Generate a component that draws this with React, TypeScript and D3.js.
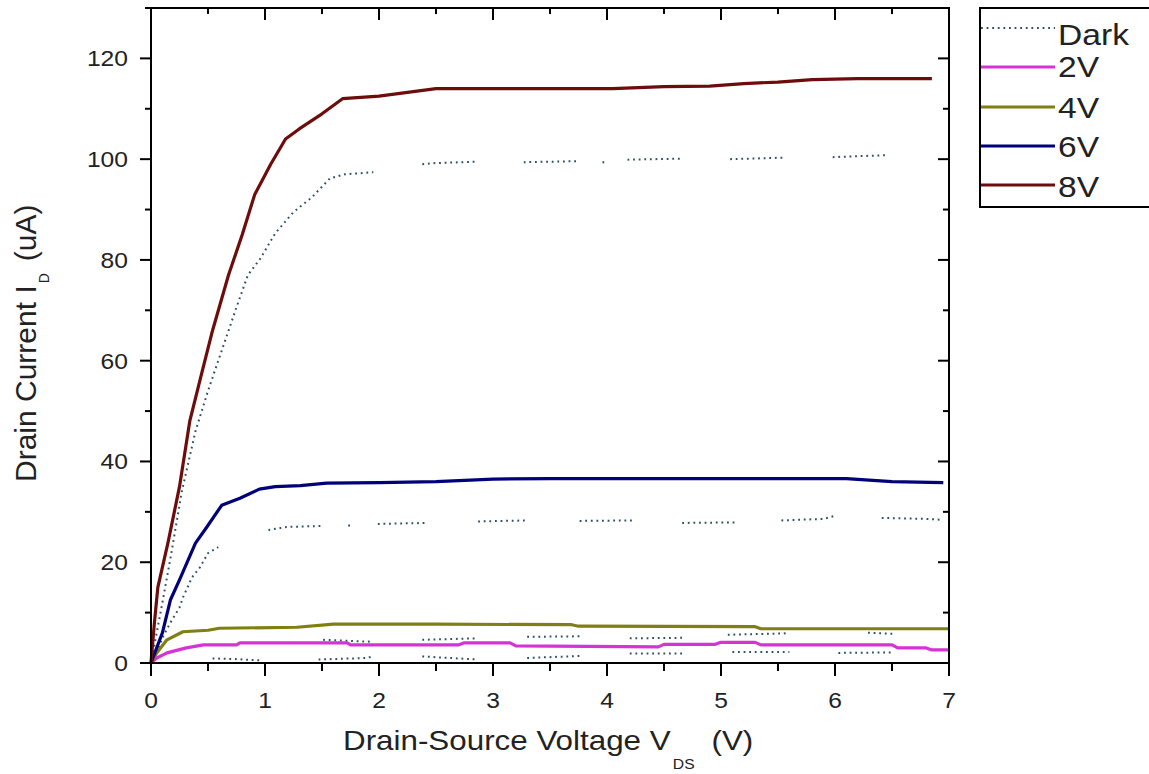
import React from 'react';
import * as d3 from 'd3';

type Pt = [number, number] | null;

// gate voltage curves (V_DS in V, I_D in uA)
const vg2: Pt[] = [[0, 0], [0.05, 1], [0.14, 2], [0.31, 3], [0.46, 3.6], [0.75, 3.6], [0.78, 4], [1.72, 4], [1.75, 3.6], [2.7, 3.6], [2.75, 4], [3.15, 4], [3.2, 3.4], [4.45, 3.2], [4.5, 3.7], [4.95, 3.7], [5.0, 4.1], [5.3, 4.1], [5.35, 3.6], [6.5, 3.6], [6.55, 3.0], [6.8, 3.0], [6.85, 2.6], [7, 2.6]];
const vg4: Pt[] = [[0, 0], [0.05, 2], [0.14, 4.6], [0.28, 6.2], [0.5, 6.5], [0.6, 6.9], [1.28, 7.1], [1.6, 7.7], [2.5, 7.7], [3.69, 7.6], [3.75, 7.3], [5.3, 7.2], [5.35, 6.8], [7, 6.8]];
const vg6: Pt[] = [[0, 0], [0.05, 3], [0.1, 6], [0.17, 12.5], [0.25, 16.5], [0.39, 23.8], [0.49, 27], [0.62, 31.3], [0.78, 32.7], [0.95, 34.5], [1.09, 35], [1.31, 35.2], [1.54, 35.7], [2, 35.8], [2.5, 36], [3, 36.5], [3.5, 36.6], [4, 36.6], [4.5, 36.6], [5, 36.6], [5.5, 36.6], [6.1, 36.6], [6.5, 36], [6.95, 35.8]];
const vg8: Pt[] = [[0, 0], [0.03, 8], [0.06, 15], [0.15, 24], [0.25, 35], [0.34, 48], [0.45, 58], [0.54, 66], [0.68, 77], [0.8, 85], [0.91, 93], [1.05, 99], [1.18, 104], [1.3, 106], [1.5, 109], [1.68, 112], [2.0, 112.5], [2.5, 114], [3, 114], [3.5, 114], [4.05, 114], [4.5, 114.4], [4.9, 114.5], [5.2, 115], [5.5, 115.3], [5.8, 115.8], [6.2, 116], [6.5, 116], [6.85, 116]];

// dark curves, sampled with gaps
const darkHigh: Pt[] = [[0, 0], [0.05, 6], [0.1, 12], [0.18, 22], [0.27, 34], [0.3, 37], [0.39, 46], [0.5, 54], [0.59, 60], [0.75, 70.6], [0.85, 77], [0.96, 80.3], [1.09, 85.3], [1.25, 89.5], [1.41, 92.4], [1.57, 96.2], [1.7, 97], [1.95, 97.4], null, [2.38, 99], [2.47, 99.2], [2.86, 99.5], null, [3.27, 99.4], [3.76, 99.6], null, [3.96, 99.4], [3.99, 99.4], null, [4.18, 99.9], [4.66, 100.1], null, [5.08, 100], [5.56, 100.3], null, [5.98, 100.4], [6.46, 100.8]];
const darkMid: Pt[] = [[0.05, 2], [0.1, 5], [0.17, 8], [0.25, 11], [0.28, 13], [0.36, 17], [0.43, 19], [0.5, 21.8], [0.59, 23], null, [1.03, 26.4], [1.19, 27], [1.5, 27.2], null, [1.73, 27.3], [1.76, 27.3], null, [1.99, 27.6], [2.42, 27.8], null, [2.87, 28.1], [3.31, 28.3], null, [3.76, 28.2], [4.23, 28.3], null, [4.66, 27.8], [5.12, 27.9], null, [5.53, 28.3], [5.9, 28.6], [6.0, 29.2], null, [6.41, 28.8], [6.81, 28.6], [6.95, 28.4]];
const darkLow4: Pt[] = [[1.51, 4.6], [1.95, 4.2], null, [2.38, 4.6], [2.86, 4.9], null, [3.3, 5.2], [3.78, 5.3], null, [4.2, 4.9], [4.68, 5.0], null, [5.06, 5.6], [5.6, 5.9], null, [6.29, 6.0], [6.51, 5.8]];
const darkLow2: Pt[] = [[0.54, 0.9], [0.72, 0.8], [0.98, 0.5], null, [1.47, 0.7], [1.9, 1.0], [1.95, 1.4], null, [2.38, 1.3], [2.86, 0.7], null, [3.3, 1.0], [3.78, 1.4], null, [4.2, 1.9], [4.68, 1.9], null, [5.1, 2.2], [5.6, 2.2], null, [6.03, 2.0], [6.51, 2.1]];

const seriesNames = ['Dark', '2V', '4V', '6V', '8V'];
const seriesColors = ['#2c5060', '#d633d6', '#7f7f14', '#00007a', '#6e0c0c'];
const xTickLabels = [0, 1, 2, 3, 4, 5, 6, 7];
const yTickLabels = [0, 20, 40, 60, 80, 100, 120];

const W = 1149;
const H = 774;
const left = 151, right = 949, top = 8, bottom = 663;
const FONT = '"Liberation Sans", Arial, sans-serif';
const SX = 1.12; // source text looks stretched horizontally
const DOTS = '1.8,3.8';

const App = () => {
  const x = d3.scaleLinear().domain([0, 7]).range([left, right]);
  const y = d3.scaleLinear().domain([0, 130]).range([bottom, top]);
  const line = d3.line<Pt>()
    .defined(d => d !== null)
    .x(d => x((d as [number, number])[0]))
    .y(d => y((d as [number, number])[1]));

  const xMinor = d3.range(0, 7.01, 0.5).filter(v => v % 1 !== 0);
  const yMinor = d3.range(10, 131, 20);

  const solid = [vg2, vg4, vg6, vg8];
  const dark = [darkHigh, darkMid, darkLow4, darkLow2];
  const legendLineY = [28, 67, 107, 146, 185];
  const legendTextY = [45, 77, 118, 157, 197];

  return (
    <svg width={W} height={H} style={{ position: 'absolute', left: 0, top: 0, background: '#fff' }} fontFamily={FONT}>
      <rect x={0} y={0} width={W} height={H} fill="#fff" />

      {/* dark curves */}
      {dark.map((d, i) => (
        <path key={'d' + i} d={line(d) || ''} fill="none" stroke={seriesColors[0]}
          strokeWidth={2} strokeDasharray={DOTS} />
      ))}

      {/* lit curves */}
      {solid.map((d, i) => (
        <path key={'s' + i} d={line(d) || ''} fill="none" stroke={seriesColors[i + 1]}
          strokeWidth={3.2} strokeLinejoin="round" />
      ))}

      {/* frame */}
      <rect x={left} y={top} width={right - left} height={bottom - top} fill="none" stroke="#000" strokeWidth={2} />

      {/* x ticks */}
      {xTickLabels.map(v => (
        <g key={'xt' + v}>
          <line x1={x(v)} x2={x(v)} y1={bottom} y2={bottom + 13} stroke="#000" strokeWidth={2} />
          <line x1={x(v)} x2={x(v)} y1={top} y2={top + 12} stroke="#000" strokeWidth={2} />
          <text transform={`translate(${x(v)},708) scale(${SX},1)`} textAnchor="middle" fontSize={22} fill="#222">{v}</text>
        </g>
      ))}
      {xMinor.map(v => (
        <g key={'xm' + v}>
          <line x1={x(v)} x2={x(v)} y1={bottom} y2={bottom + 8} stroke="#000" strokeWidth={2} />
          <line x1={x(v)} x2={x(v)} y1={top} y2={top + 6} stroke="#000" strokeWidth={2} />
        </g>
      ))}

      {/* y ticks */}
      {yTickLabels.map(v => (
        <g key={'yt' + v}>
          <line x1={left - 11} x2={left} y1={y(v)} y2={y(v)} stroke="#000" strokeWidth={2} />
          <line x1={right - 11} x2={right} y1={y(v)} y2={y(v)} stroke="#000" strokeWidth={2} />
          <text transform={`translate(128,${y(v) + 8}) scale(${SX},1)`} textAnchor="end" fontSize={22} fill="#222">{v}</text>
        </g>
      ))}
      {yMinor.map(v => (
        <g key={'ym' + v}>
          <line x1={left - 6} x2={left} y1={y(v)} y2={y(v)} stroke="#000" strokeWidth={2} />
          <line x1={right - 6} x2={right} y1={y(v)} y2={y(v)} stroke="#000" strokeWidth={2} />
        </g>
      ))}

      {/* axis titles */}
      <text transform={`translate(343,750) scale(${SX},1)`} fontSize={28} fill="#222">
        Drain-Source Voltage V<tspan dy={19} dx={2} fontSize={14}>DS</tspan><tspan dy={-19} dx={15}>(V)</tspan>
      </text>
      <text transform="translate(36,482) rotate(-90)" fontSize={30} fill="#222">
        Drain Current I<tspan dy={13} dx={2} fontSize={14}>D</tspan><tspan dy={-13} dx={12}>(uA)</tspan>
      </text>

      {/* legend */}
      <rect x={980} y={8} width={185} height={199} fill="#fff" stroke="#000" strokeWidth={2} />
      {seriesNames.map((name, i) => (
        <g key={'lg' + name}>
          <line x1={981} x2={1055} y1={legendLineY[i]} y2={legendLineY[i]} stroke={seriesColors[i]}
            strokeWidth={i === 0 ? 2 : 3.2} strokeDasharray={i === 0 ? DOTS : undefined} />
          <text transform={`translate(1058,${legendTextY[i]}) scale(${SX},1)`} fontSize={30} fill="#222">{name}</text>
        </g>
      ))}
    </svg>
  );
};

export default App;
